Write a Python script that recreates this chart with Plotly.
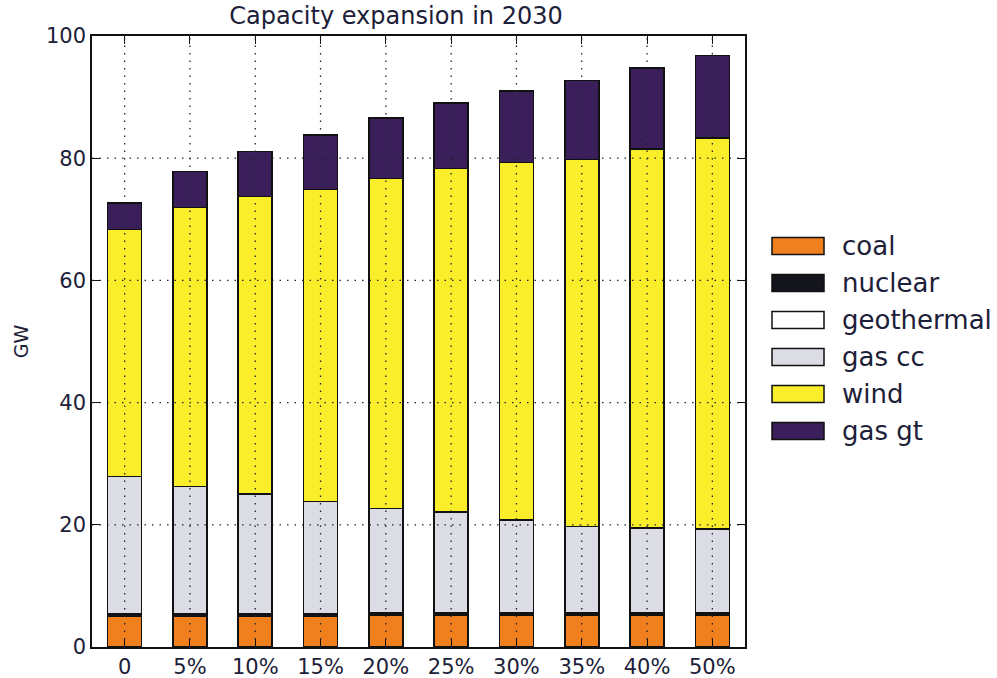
import plotly.graph_objects as go

scenarios = ['0', '5%', '10%', '15%', '20%', '25%', '30%', '35%', '40%', '50%']

coal = [5.0, 5.0, 5.0, 5.0, 5.2, 5.2, 5.2, 5.2, 5.2, 5.2]
nuclear = [0.4, 0.4, 0.4, 0.4, 0.4, 0.4, 0.4, 0.4, 0.4, 0.4]
geothermal = [0, 0, 0, 0, 0, 0, 0, 0, 0, 0]
gas_cc = [22.5, 20.9, 19.6, 18.4, 17.1, 16.5, 15.2, 14.1, 13.9, 13.7]
wind = [40.4, 45.6, 48.7, 51.1, 54.0, 56.2, 58.5, 60.1, 62.0, 64.0]
gas_gt = [4.4, 5.9, 7.4, 8.9, 9.9, 10.7, 11.7, 12.9, 13.3, 13.5]

y_ticks = [0, 20, 40, 60, 80, 100]

series = [
    ('coal', coal, '#f0801e'),
    ('nuclear', nuclear, '#14141c'),
    ('geothermal', geothermal, '#ffffff'),
    ('gas cc', gas_cc, '#dcdce4'),
    ('wind', wind, '#faee2a'),
    ('gas gt', gas_gt, '#3b1f5a'),
]

txt = '#1c2038'
font_family = 'DejaVu Sans'

# plot area in pixels (figure 997x678)
L, R, T, B = 92, 745, 36, 647
W, H = 997, 678

fig = go.Figure()
for name, vals, col in series:
    fig.add_trace(go.Bar(
        x=scenarios, y=vals, name=name, showlegend=False,
        marker=dict(color=col, line=dict(color='#111111', width=1.6)),
        width=0.52,
    ))

# dotted grid drawn over the bars, like the original
grid = dict(color='#222233', width=1.3, dash='1.5px,6px')
shapes = []
for c in scenarios:
    shapes.append(dict(type='line', xref='x', yref='paper', x0=c, x1=c, y0=0, y1=1,
                       line=grid, layer='above'))
for v in y_ticks[1:-1]:
    shapes.append(dict(type='line', xref='paper', yref='y', x0=0, x1=1, y0=v, y1=v,
                       line=grid, layer='above'))

# legend: big swatches + labels to the right of the axes
annotations = []
for i, (name, vals, col) in enumerate(series):
    cy = 246 + 37 * i
    y0 = (B - (cy + 8.5)) / (B - T)
    y1 = (B - (cy - 8.5)) / (B - T)
    shapes.append(dict(type='rect', xref='paper', yref='paper',
                       x0=(772 - L) / (R - L), x1=(824 - L) / (R - L), y0=y0, y1=y1,
                       fillcolor=col, line=dict(color='#111111', width=1.5)))
    annotations.append(dict(text=name, xref='paper', yref='paper',
                            x=(840 - L) / (R - L), y=(B - cy) / (B - T),
                            xanchor='left', yanchor='middle', showarrow=False,
                            font=dict(size=26, color=txt)))

fig.update_layout(
    barmode='stack',
    width=W, height=H,
    margin=dict(l=L, r=W - R, t=T, b=H - B, autoexpand=False),
    paper_bgcolor='white', plot_bgcolor='white',
    font=dict(family=font_family, color=txt, size=21),
    title=dict(text='Capacity expansion in 2030', xref='container', x=396 / W,
               xanchor='center', yref='container', y=1 - 16 / H, yanchor='middle',
               font=dict(size=24, color=txt), automargin=False),
    shapes=shapes,
    annotations=annotations,
    showlegend=False,
)

fig.update_xaxes(
    range=[-0.5, 9.5], showline=True, linecolor='#111111', linewidth=1.5,
    mirror='ticks', ticks='inside', ticklen=8, tickcolor='#111111',
    showgrid=False, layer='above traces', tickfont=dict(size=21), automargin=False,
)
fig.update_yaxes(
    range=[0, 100], tickvals=y_ticks, showline=True, linecolor='#111111', linewidth=1.5,
    mirror='ticks', ticks='inside', ticklen=8, tickcolor='#111111',
    showgrid=False, layer='above traces', tickfont=dict(size=21),
    title=dict(text='GW', font=dict(size=19), standoff=12),
    zeroline=False, automargin=False,
)

# the page's default body margin would shift the figure; remove it
fig.write_html('out.html', config={'displayModeBar': False},
               post_script="document.body.style.margin='0';")
